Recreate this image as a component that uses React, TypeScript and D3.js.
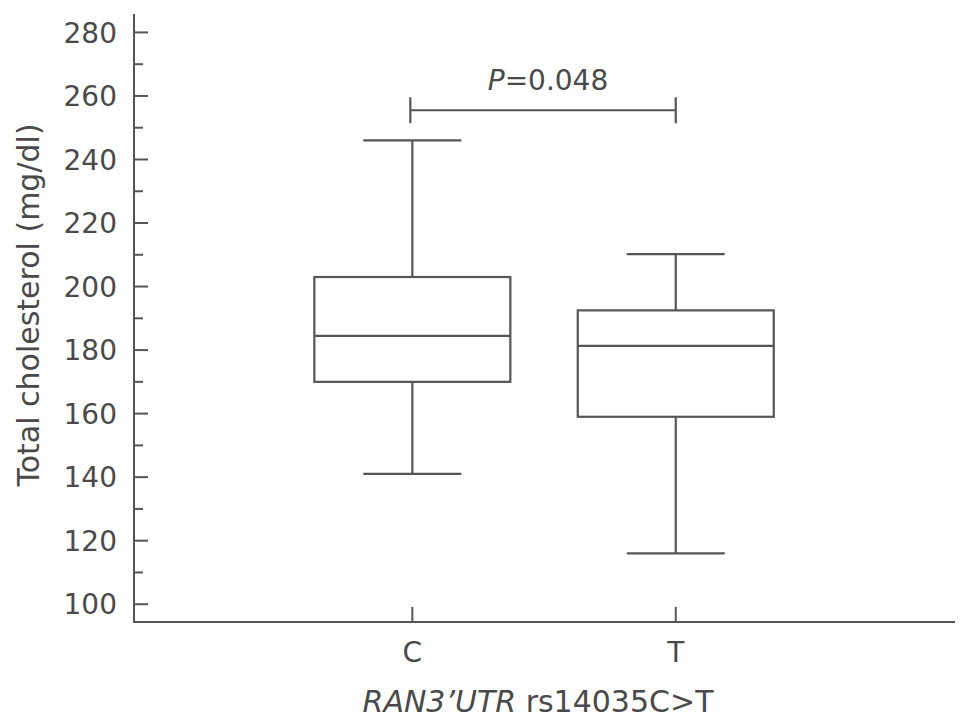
import React, { useRef, useEffect } from "react";
import * as d3 from "d3";

const categories = ["C", "T"];
// box stats: min, q1, median, q3, max
const whiskerMin = [141, 116];
const q1 = [170, 159];
const median = [184.5, 181.3];
const q3 = [203, 192.5];
const whiskerMax = [246, 210.2];
const majorTicks = [100, 120, 140, 160, 180, 200, 220, 240, 260, 280];
const minorTicks = [110, 130, 150, 170, 190, 210, 230, 250, 270];
const pValue = "0.048";
const bracketY = 255.5;

const W = 969;
const H = 726;
const stroke = "#555";
const textColor = "#4a4a4a";
const font = "'DejaVu Sans', 'Liberation Sans', Arial, sans-serif";

const App = () => {
  const ref = useRef<SVGSVGElement>(null);

  useEffect(() => {
    const svg = d3.select(ref.current);
    svg.selectAll("*").remove();

    const left = 134;
    const right = 955;
    const top = 14;
    const bottom = 622;

    const y = d3.scaleLinear().domain([94.4, 285.8]).range([bottom, top]);
    // category i sits at x(i): C -> 0, T -> 1
    const x = d3.scaleLinear().domain([-1.0566, 2.06]).range([left, right]);
    const boxW = 196;
    const capW = 98;

    // y axis
    svg.append("line")
      .attr("x1", left).attr("x2", left)
      .attr("y1", top).attr("y2", bottom)
      .attr("stroke", stroke).attr("stroke-width", 2);
    svg.selectAll(".maj").data(majorTicks).join("line")
      .attr("x1", left).attr("x2", left + 14)
      .attr("y1", (d) => y(d)).attr("y2", (d) => y(d))
      .attr("stroke", stroke).attr("stroke-width", 2);
    svg.selectAll(".min").data(minorTicks).join("line")
      .attr("x1", left).attr("x2", left + 9)
      .attr("y1", (d) => y(d)).attr("y2", (d) => y(d))
      .attr("stroke", stroke).attr("stroke-width", 2);
    svg.selectAll(".ylab").data(majorTicks).join("text")
      .attr("x", 117).attr("y", (d) => y(d))
      .attr("dy", "0.36em")
      .attr("text-anchor", "end")
      .attr("font-family", font).attr("font-size", 28)
      .attr("fill", textColor)
      .text((d) => d);

    // x axis
    svg.append("line")
      .attr("x1", left - 1).attr("x2", right)
      .attr("y1", bottom).attr("y2", bottom)
      .attr("stroke", stroke).attr("stroke-width", 2);
    categories.forEach((c, i) => {
      svg.append("line")
        .attr("x1", x(i)).attr("x2", x(i))
        .attr("y1", bottom).attr("y2", bottom - 15)
        .attr("stroke", stroke).attr("stroke-width", 2);
      svg.append("text")
        .attr("x", x(i)).attr("y", 662)
        .attr("text-anchor", "middle")
        .attr("font-family", font).attr("font-size", 28)
        .attr("fill", textColor)
        .text(c);
    });

    // boxes
    categories.forEach((c, i) => {
      const cx = x(i);
      const g = svg.append("g")
        .attr("stroke", stroke).attr("stroke-width", 2.2).attr("fill", "none");
      g.append("line").attr("x1", cx).attr("x2", cx)
        .attr("y1", y(whiskerMax[i])).attr("y2", y(q3[i]));
      g.append("line").attr("x1", cx).attr("x2", cx)
        .attr("y1", y(q1[i])).attr("y2", y(whiskerMin[i]));
      g.append("line").attr("x1", cx - capW / 2).attr("x2", cx + capW / 2)
        .attr("y1", y(whiskerMax[i])).attr("y2", y(whiskerMax[i]));
      g.append("line").attr("x1", cx - capW / 2).attr("x2", cx + capW / 2)
        .attr("y1", y(whiskerMin[i])).attr("y2", y(whiskerMin[i]));
      g.append("rect")
        .attr("x", cx - boxW / 2).attr("width", boxW)
        .attr("y", y(q3[i])).attr("height", y(q1[i]) - y(q3[i]));
      g.append("line").attr("x1", cx - boxW / 2).attr("x2", cx + boxW / 2)
        .attr("y1", y(median[i])).attr("y2", y(median[i]));
    });

    // significance bracket
    const by = y(bracketY);
    const bx1 = x(0) - 2;
    const bx2 = x(1);
    const br = svg.append("g").attr("stroke", stroke).attr("stroke-width", 2.2);
    br.append("line").attr("x1", bx1).attr("x2", bx2).attr("y1", by).attr("y2", by);
    br.append("line").attr("x1", bx1).attr("x2", bx1).attr("y1", by - 13).attr("y2", by + 13);
    br.append("line").attr("x1", bx2).attr("x2", bx2).attr("y1", by - 13).attr("y2", by + 13);
    const pt = svg.append("text")
      .attr("x", 548).attr("y", 90)
      .attr("text-anchor", "middle")
      .attr("font-family", font).attr("font-size", 28)
      .attr("fill", textColor);
    pt.append("tspan").attr("font-style", "italic").text("P");
    pt.append("tspan").text("=" + pValue);

    // axis titles
    const xt = svg.append("text")
      .attr("x", 538).attr("y", 712)
      .attr("text-anchor", "middle")
      .attr("font-family", font).attr("font-size", 30)
      .attr("fill", textColor);
    xt.append("tspan").attr("font-style", "italic").text("RAN3\u2019UTR");
    xt.append("tspan").text(" rs14035C>T");

    svg.append("text")
      .attr("transform", "translate(39,305) rotate(-90)")
      .attr("text-anchor", "middle")
      .attr("font-family", font).attr("font-size", 30)
      .attr("fill", textColor)
      .text("Total cholesterol (mg/dl)");
  }, []);

  return (
    <div>
      <svg
        ref={ref}
        width={W}
        height={H}
        style={{ position: "absolute", left: 0, top: 0, background: "#fff" }}
      />
    </div>
  );
};

export default App;
